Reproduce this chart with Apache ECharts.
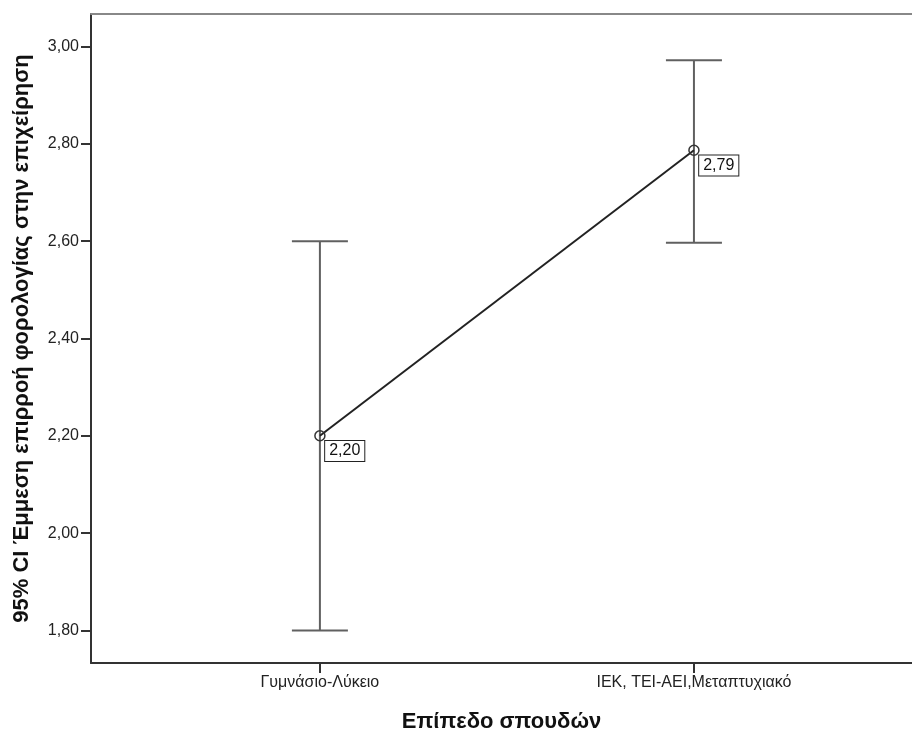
<!DOCTYPE html>
<html>
<head>
<meta charset="utf-8">
<script src="https://cdn.jsdelivr.net/npm/echarts@6/dist/echarts.min.js"></script>
<style>html,body{margin:0;padding:0;background:#fff}#c{width:912px;height:738px}</style>
</head>
<body>
<div id="c"></div>
<script>
const categories = ['Γυμνάσιο-Λύκειο', 'ΙΕΚ, ΤΕΙ-ΑΕΙ,Μεταπτυχιακό'];
const catPositions = [1, 2];
const means = [2.20, 2.787];
const lowerCI = [1.80, 2.597];
const upperCI = [2.60, 2.972];
const yTicks = [1.8, 2.0, 2.2, 2.4, 2.6, 2.8, 3.0];
const yTitle = '95% CI Έμμεση επιρροή φορολογίας στην επιχείρηση';
const xTitle = 'Επίπεδο σπουδών';

const fmt = v => v.toFixed(2).replace('.', ',');
const FONT = '"Liberation Sans", Arial, sans-serif';

const chart = echarts.init(document.getElementById('c'), null, {renderer: 'canvas'});

const errData = catPositions.map((x, i) => [x, lowerCI[i], upperCI[i]]);
const lineData = catPositions.map((x, i) => [x, means[i]]);

chart.setOption({
  animation: false,
  grid: {left: 91, right: 0, top: 14, bottom: 65, containLabel: false},
  xAxis: [{
    type: 'value',
    min: 0.388,
    max: 2.583,
    axisLine: {show: true, lineStyle: {color: '#333', width: 2}},
    axisTick: {show: true, length: 10, customValues: catPositions, lineStyle: {color: '#333', width: 2}},
    axisLabel: {
      customValues: catPositions,
      formatter: v => categories[catPositions.indexOf(v)] || '',
      color: '#222', fontSize: 16, fontFamily: FONT, margin: 12
    },
    splitLine: {show: false},
    name: xTitle,
    nameLocation: 'middle',
    nameGap: 48,
    nameTextStyle: {fontSize: 22, fontWeight: 'bold', color: '#111', fontFamily: FONT}
  }, {
    type: 'value',
    position: 'top',
    min: 0.388,
    max: 2.583,
    axisLine: {show: true, lineStyle: {color: '#888', width: 2}},
    axisTick: {show: false},
    axisLabel: {show: false},
    splitLine: {show: false}
  }],
  yAxis: {
    type: 'value',
    min: 1.733,
    max: 3.067,
    axisLine: {show: true, lineStyle: {color: '#333', width: 2}},
    axisTick: {show: true, length: 10, customValues: yTicks, lineStyle: {color: '#333', width: 2}},
    axisLabel: {
      customValues: yTicks,
      formatter: v => fmt(v),
      color: '#222', fontSize: 16, fontFamily: FONT, margin: 12
    },
    splitLine: {show: false},
    name: yTitle,
    nameLocation: 'middle',
    nameGap: 58,
    nameTextStyle: {fontSize: 22, fontWeight: 'bold', color: '#111', fontFamily: FONT}
  },
  series: [{
    type: 'custom',
    xAxisIndex: 0,
    data: errData,
    z: 2,
    renderItem: (params, api) => {
      const x = api.value(0);
      const lo = api.coord([x, api.value(1)]);
      const hi = api.coord([x, api.value(2)]);
      const hw = 28;
      const style = {stroke: '#606060', lineWidth: 2};
      return {
        type: 'group',
        children: [
          {type: 'line', shape: {x1: lo[0], y1: lo[1], x2: hi[0], y2: hi[1]}, style},
          {type: 'line', shape: {x1: lo[0] - hw, y1: lo[1], x2: lo[0] + hw, y2: lo[1]}, style},
          {type: 'line', shape: {x1: hi[0] - hw, y1: hi[1], x2: hi[0] + hw, y2: hi[1]}, style}
        ]
      };
    }
  }, {
    type: 'line',
    xAxisIndex: 0,
    data: lineData,
    z: 3,
    symbol: 'circle',
    symbolSize: 10,
    itemStyle: {color: 'rgba(0,0,0,0)', borderColor: '#333', borderWidth: 1.5},
    lineStyle: {color: '#222', width: 2},
    label: {
      show: true,
      position: [11, 11],
      formatter: p => fmt(p.value[1]),
      color: '#111',
      fontSize: 16,
      lineHeight: 16,
      fontFamily: FONT,
      backgroundColor: '#fff',
      borderColor: '#222',
      borderWidth: 1,
      padding: [2, 4, 2, 4]
    }
  }]
});
</script>
</body>
</html>
